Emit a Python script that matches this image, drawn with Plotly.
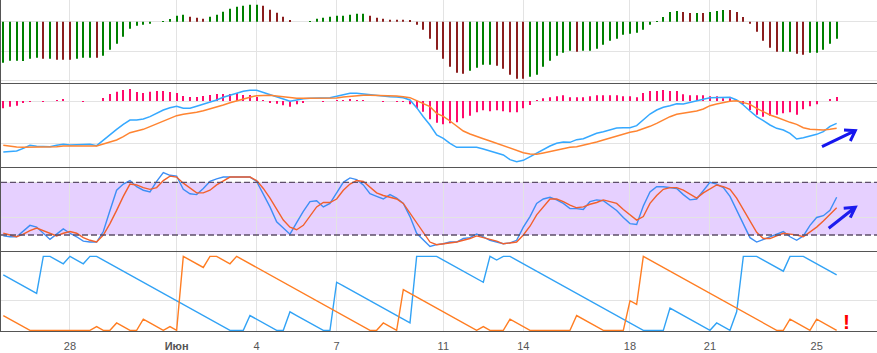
import plotly.graph_objects as go
import pandas as pd

# ---------------- data ----------------
times = pd.date_range("2019-05-25 12:00", periods=126, freq="6h")

tick_vals = ["2019-05-28", "2019-06-01", "2019-06-04", "2019-06-07", "2019-06-11",
             "2019-06-14", "2019-06-18", "2019-06-21", "2019-06-25"]
tick_text = ["28", "<b>Июн</b>", "4", "7", "11", "14", "18", "21", "25"]

# panel 1: oscillator histogram and its direction flags (g = rising, r = falling)
osc_hist = [-123, -117, -117, -118, -111, -108, -111, -111, -114, -114,
            -114, -111, -108, -108, -108, -102, -84, -66, -45, -21,
            -12, -9, -6, 0, 2, 8, 18, 21, 15, 12,
            9, 15, 21, 30, 39, 45, 48, 51, 51, 48,
            36, 27, 15, 3, 0, 0, 2, 9, 12, 15,
            18, 18, 21, 24, 24, 18, 12, 9, 6, 6,
            6, 3, -9, -24, -51, -84, -111, -135, -153, -156,
            -147, -138, -129, -129, -132, -141, -159, -171, -171, -165,
            -159, -135, -117, -102, -93, -87, -90, -87, -87, -81,
            -69, -57, -51, -39, -36, -33, -24, -9, 2, 14,
            29, 32, 29, 26, 26, 26, 29, 32, 35, 35,
            29, 14, -6, -30, -57, -78, -90, -90, -90, -96,
            -99, -93, -93, -84, -66, -51]
osc_dir = ("ggggggrgrr" "rgggrggggg" "ggggggggrr" "rggggggggr" "rrrrrrgggg"
           "gggggrrrrr" "rrrrrrrrrr" "ggggrrrrrg" "ggggggrggg" "gggggggggg"
           "ggrrgrgggr" "rrrrrrrggr" "rggggg")

# panel 2: MACD
macd_hist = [-22, -17, -14, -4, -2, 0, -2, 0, 1, 4,
             0, 0, -1, 0, 0, 9, 21, 28, 33, 36,
             27, 24, 28, 30, 30, 27, 24, 15, 12, 12,
             15, 18, 21, 21, 21, 24, 18, 18, 12, 3,
             -4, -8, -13, -17, -10, -4, 0, 0, -2, 0,
             3, 3, 6, 3, 1, 0, 0, -2, 0, -2,
             -2, -10, -22, -32, -55, -65, -70, -67, -64, -52,
             -44, -34, -28, -31, -28, -31, -34, -34, -22, -12,
             1, 8, 11, 14, 17, 11, 11, 11, 14, 17,
             17, 17, 17, 14, 14, 11, 24, 30, 30, 33,
             30, 30, 20, 17, 17, 17, 14, 14, 8, 8,
             1, -10, -27, -41, -47, -44, -41, -37, -34, -41,
             -25, -16, -10, 0, 6, 12]
macd_line = [-153, -152, -150, -142, -133, -136, -137, -137, -133, -130,
             -132, -132, -131, -130, -134, -117, -102, -85, -70, -57,
             -57, -54, -47, -36, -27, -20, -16, -22, -22, -16,
             -10, -4, 3, 11, 16, 23, 29, 32, 32, 26,
             19, 12, 6, -1, 4, 7, 8, 8, 8, 10,
             14, 19, 23, 23, 21, 17, 15, 13, 13, 12,
             10, 3, -20, -47, -72, -102, -112, -127, -139, -139,
             -139, -139, -144, -150, -155, -162, -176, -182, -178, -167,
             -155, -144, -135, -127, -123, -124, -116, -113, -104, -97,
             -92, -86, -81, -80, -80, -74, -57, -39, -27, -19,
             -14, -8, -9, -5, 0, 5, 10, 11, 11, 11,
             3, -12, -30, -47, -59, -72, -82, -87, -97, -114,
             -110, -105, -100, -92, -76, -67]
macd_signal = [-133, -136, -138, -139, -139, -139, -139, -139, -137, -135,
               -135, -135, -135, -135, -135, -129, -123, -117, -107, -95,
               -90, -85, -77, -69, -61, -53, -44, -40, -38, -34,
               -29, -24, -18, -12, -5, 1, 6, 11, 16, 17,
               17, 15, 13, 9, 8, 8, 8, 8, 8, 8,
               9, 12, 14, 16, 17, 17, 17, 16, 16, 15,
               13, 10, 1, -9, -17, -37, -46, -60, -75, -90,
               -99, -107, -113, -120, -127, -135, -142, -149, -155, -159,
               -160, -156, -152, -147, -142, -139, -137, -133, -129, -123,
               -117, -111, -104, -99, -94, -90, -84, -76, -67, -57,
               -47, -40, -37, -34, -30, -24, -14, -9, -4, -1,
               1, -4, -10, -22, -32, -42, -49, -57, -64, -70,
               -80, -85, -87, -87, -85, -82]

# panel 3: stochastic
stoch_k = [19, 18, 18, 25, 31, 29, 22, 15, 21, 27,
           22, 18, 13, 12, 12, 24, 48, 71, 78, 82,
           75, 71, 69, 81, 91, 88, 87, 72, 67, 66,
           73, 81, 84, 86, 86, 86, 86, 86, 81, 67,
           52, 35, 28, 21, 34, 47, 58, 59, 52, 56,
           68, 80, 85, 83, 77, 67, 64, 61, 66, 62,
           56, 41, 22, 14, 7, 9, 10, 12, 12, 16,
           17, 21, 18, 14, 12, 10, 11, 14, 29, 41,
           56, 61, 63, 60, 56, 50, 50, 49, 58, 60,
           59, 53, 48, 40, 33, 32, 53, 69, 75, 75,
           74, 73, 66, 60, 61, 71, 80, 78, 74, 64,
           48, 31, 17, 12, 15, 18, 21, 24, 18, 14,
           19, 31, 40, 42, 48, 63]
stoch_d = [22, 20, 18, 21, 25, 28, 25, 22, 19, 22,
           24, 22, 17, 14, 12, 20, 33, 48, 64, 78,
           77, 74, 72, 74, 82, 87, 86, 79, 73, 68,
           68, 71, 77, 82, 86, 86, 86, 86, 82, 73,
           62, 50, 37, 29, 26, 31, 42, 52, 57, 57,
           61, 71, 78, 82, 81, 74, 68, 65, 63, 61,
           56, 45, 33, 22, 12, 9, 10, 11, 12, 14,
           16, 19, 17, 15, 13, 10, 11, 12, 20, 30,
           43, 52, 61, 61, 58, 54, 51, 52, 55, 57,
           60, 58, 56, 49, 43, 37, 41, 56, 65, 72,
           74, 74, 71, 66, 62, 68, 73, 77, 75, 72,
           62, 49, 37, 23, 16, 16, 19, 22, 21, 20,
           18, 23, 29, 36, 44, 51]
stoch_upper = 80
stoch_lower = 20

# panel 4: Aroon
aroon_up = [75, 70, 65, 60, 55, 50, 100, 100, 95, 90,
            100, 95, 90, 100, 100, 95, 90, 85, 80, 75,
            70, 65, 60, 55, 50, 45, 40, 35, 30, 25,
            20, 15, 10, 5, 0, 0, 0, 20, 15, 10,
            5, 0, 0, 25, 20, 15, 10, 5, 0, 0,
            65, 60, 55, 50, 45, 40, 35, 30, 25, 20,
            15, 10, 100, 100, 100, 100, 95, 90, 85, 80,
            75, 70, 65, 100, 95, 100, 100, 95, 90, 85,
            80, 75, 70, 65, 60, 55, 50, 45, 40, 35,
            30, 25, 20, 15, 10, 5, 0, 0, 0, 0,
            30, 25, 20, 15, 10, 5, 0, 10, 5, 0,
            25, 100, 100, 100, 95, 90, 85, 80, 100, 100,
            100, 95, 90, 85, 80, 75]
aroon_down = [20, 15, 10, 5, 0, 0, 0, 0, 0, 0,
              0, 0, 0, 0, 5, 0, 0, 10, 5, 0,
              0, 15, 10, 5, 0, 5, 0, 100, 95, 90,
              85, 100, 100, 95, 90, 100, 95, 90, 85, 80,
              75, 70, 65, 60, 55, 50, 45, 40, 35, 30,
              25, 20, 15, 10, 5, 0, 0, 10, 5, 0,
              55, 50, 45, 40, 35, 30, 25, 20, 15, 10,
              5, 0, 5, 0, 0, 0, 15, 10, 5, 0,
              0, 0, 0, 0, 0, 0, 20, 15, 10, 5,
              0, 0, 0, 0, 40, 35, 100, 95, 90, 85,
              80, 75, 70, 65, 60, 55, 50, 45, 40, 35,
              30, 25, 20, 15, 10, 5, 0, 0, 15, 10,
              5, 0, 15, 10, 5, 0]

for arr in (osc_hist, osc_dir, macd_hist, macd_line, macd_signal,
            stoch_k, stoch_d, aroon_up, aroon_down):
    assert len(arr) == 126, len(arr)

# ---------------- style ----------------
W, H = 877, 353
ML, MB = 1, 22
PW, PH = W - ML, H - MB
GREEN, DARKRED, PINK = "#008000", "#8b1e1e", "#ff0a6c"
BLUE2, ORANGE2 = "#35a8ff", "#ff8431"
BLUE3, ORANGE3 = "#3d8ef5", "#f2602c"
BLUE4, ORANGE4 = "#31a2f5", "#ff7d22"
GRID, AXIS = "#e3e3e3", "#555555"
BAR_W = 3.6e6  # ms, ~1.1 px


def dom(top_px, bot_px):
    return [(PH - bot_px) / PH, (PH - top_px) / PH]


def P(px, py):
    return (px - ML) / PW, (PH - py) / PH


fig = go.Figure()

fig.add_trace(go.Bar(x=times, y=osc_hist, width=BAR_W,
                     marker=dict(color=[GREEN if d == "g" else DARKRED for d in osc_dir],
                                 line=dict(width=0)),
                     xaxis="x", yaxis="y"))

fig.add_trace(go.Bar(x=times, y=macd_hist, width=BAR_W,
                     marker=dict(color=PINK, line=dict(width=0)),
                     xaxis="x2", yaxis="y2"))
fig.add_trace(go.Scatter(x=times, y=macd_line, mode="lines",
                         line=dict(color=BLUE2, width=1.5), xaxis="x2", yaxis="y2"))
fig.add_trace(go.Scatter(x=times, y=macd_signal, mode="lines",
                         line=dict(color=ORANGE2, width=1.5), xaxis="x2", yaxis="y2"))

fig.add_trace(go.Scatter(x=times, y=stoch_k, mode="lines",
                         line=dict(color=BLUE3, width=1.4), xaxis="x3", yaxis="y3"))
fig.add_trace(go.Scatter(x=times, y=stoch_d, mode="lines",
                         line=dict(color=ORANGE3, width=1.4), xaxis="x3", yaxis="y3"))

fig.add_trace(go.Scatter(x=times, y=aroon_up, mode="lines",
                         line=dict(color=BLUE4, width=1.4), xaxis="x4", yaxis="y4"))
fig.add_trace(go.Scatter(x=times, y=aroon_down, mode="lines",
                         line=dict(color=ORANGE4, width=1.4), xaxis="x4", yaxis="y4"))

xrange = ["2019-05-25 09:56", "2019-06-27 06:18"]
xcommon = dict(range=xrange, tickvals=tick_vals, ticktext=tick_text,
               showgrid=True, gridcolor=GRID, gridwidth=1, zeroline=False,
               showline=True, linecolor=AXIS, linewidth=1, ticks="",
               tickfont=dict(family="Liberation Sans, Arial, sans-serif", size=11, color="#555555"))
ycommon = dict(showgrid=True, gridcolor=GRID, gridwidth=1, zeroline=False,
               showline=True, linecolor=AXIS, linewidth=1, ticks="",
               showticklabels=False, tick0=0, fixedrange=True)

layout = dict(
    width=W, height=H,
    margin=dict(l=ML, r=0, t=0, b=MB),
    paper_bgcolor="white", plot_bgcolor="white",
    showlegend=False, barmode="overlay",
    xaxis=dict(xcommon, anchor="y", showticklabels=False),
    xaxis2=dict(xcommon, anchor="y2", matches="x", showticklabels=False),
    xaxis3=dict(xcommon, anchor="y3", matches="x", showticklabels=False),
    xaxis4=dict(xcommon, anchor="y4", matches="x", showticklabels=True,
                ticks="outside", ticklen=5, tickcolor="rgba(0,0,0,0)"),
    yaxis=dict(ycommon, domain=dom(0, 83), range=[-184, 65], dtick=88, anchor="x"),
    yaxis2=dict(ycommon, domain=dom(84, 167), range=[-198, 51], dtick=127, anchor="x2"),
    yaxis3=dict(ycommon, domain=dom(168, 251), range=[1.8, 96.3], dtick=40, anchor="x3"),
    yaxis4=dict(ycommon, domain=dom(252, 331), range=[-0.9, 105.9], dtick=40, anchor="x4"),
)
fig.update_layout(**layout)

# stochastic band and dashed levels
fig.add_shape(type="rect", xref="paper", yref="y3", x0=0, x1=1,
              y0=stoch_lower, y1=stoch_upper, fillcolor="rgba(185,125,255,0.36)",
              line=dict(width=0), layer="below")
for lvl in (stoch_upper, stoch_lower):
    fig.add_shape(type="line", xref="paper", yref="y3", x0=0, x1=1, y0=lvl, y1=lvl,
                  line=dict(color="#5e4f6a", width=1.3, dash="6px,3px"), layer="above")


def arrow(tail, head, w1, w2, color):
    (tx, ty), (hx, hy), (ax_, ay_), (bx, by) = [P(*p) for p in (tail, head, w1, w2)]
    path = f"M{tx},{ty} L{hx},{hy} M{ax_},{ay_} L{hx},{hy} L{bx},{by}"
    fig.add_shape(type="path", xref="paper", yref="paper", path=path,
                  line=dict(color=color, width=3), layer="above")


arrow((822, 146.7), (855.3, 130.7), (844.0, 130.0), (850.3, 141.0), "#1616ee")
arrow((828.7, 228.3), (855.3, 207.3), (843.7, 208.3), (850.3, 217.7), "#1c1cee")

ex, ey = P(846.7, 321.5)
fig.add_annotation(x=ex, y=ey, xref="paper", yref="paper", text="<b>!</b>",
                   showarrow=False, font=dict(family="Liberation Sans, Arial", size=21, color="#ff0000"),
                   xanchor="center", yanchor="middle")

fig.write_html("out.html")
